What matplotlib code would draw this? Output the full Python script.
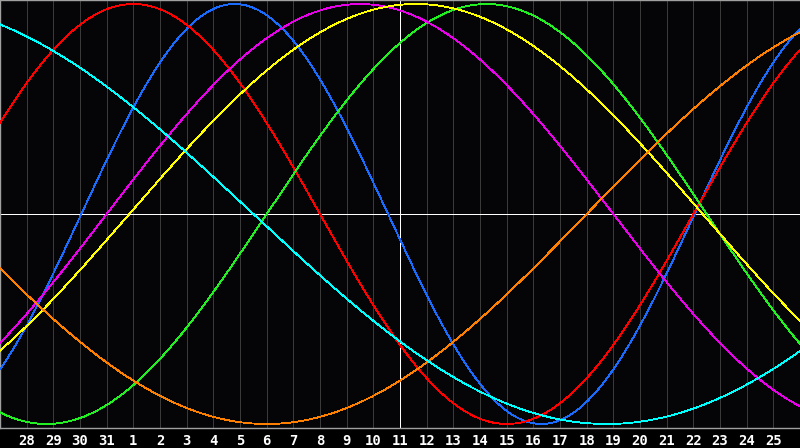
import numpy as np
import matplotlib
matplotlib.use("Agg")
import matplotlib.pyplot as plt

# Day labels along the bottom (one per grid line)
day_labels = ["28", "29", "30", "31"] + [str(i) for i in range(1, 26)]

# Biorhythm cycles: name, period (days), days into cycle at left edge, colour
cycle_names = ["Physical", "Emotional", "Intellectual", "Intuitive",
               "Aesthetic", "Awareness", "Spiritual"]
cycle_periods = [23, 28, 33, 38, 43, 48, 53]
cycle_phase0 = [19.95, 2.0, 23.0, 34.0, 38.15, 26.0, 17.0]
cycle_colors = ["#1a6cff", "#ff0000", "#22f022", "#e800e8",
                "#ffff00", "#ff8000", "#00ffff"]

n_days = 30
today_index = 15

fig = plt.figure(figsize=(8, 4.48), dpi=100, facecolor="#000000")
ax = fig.add_axes([0, 20 / 448, 1, 428 / 448])
ax.set_facecolor("#050508")
ax.set_xlim(0, n_days)
lim = 214 / 210
ax.set_ylim(-lim, lim)

# vertical day grid
for k in range(1, n_days):
    ax.axvline(k, color="#3a3a3a", lw=0.72, zorder=1, antialiased=False)

# today / zero axis
ax.axvline(today_index, color="#ffffff", lw=0.72, zorder=2, antialiased=False)
ax.axhline(0, color="#ffffff", lw=0.72, zorder=2, antialiased=False)

t = np.linspace(0, n_days, 1601)
for name, P, ph, c in zip(cycle_names, cycle_periods, cycle_phase0, cycle_colors):
    v = np.sin(2 * np.pi * (ph + t) / P)
    ax.plot(t, v, color=c, lw=0.6, zorder=3, antialiased=False, label=name)

ax.set_xticks(range(1, n_days))
ax.set_xticklabels(day_labels, color="white", fontsize=10,
                   fontweight="bold", family="DejaVu Sans Mono")
ax.tick_params(axis="x", length=0, pad=4)
ax.set_yticks([])
for side in ["left", "top", "bottom"]:
    ax.spines[side].set_color("#a0a0a0")
    ax.spines[side].set_linewidth(1.0)
ax.spines["right"].set_visible(False)

fig.savefig("out.png", dpi=100, facecolor=fig.get_facecolor())
